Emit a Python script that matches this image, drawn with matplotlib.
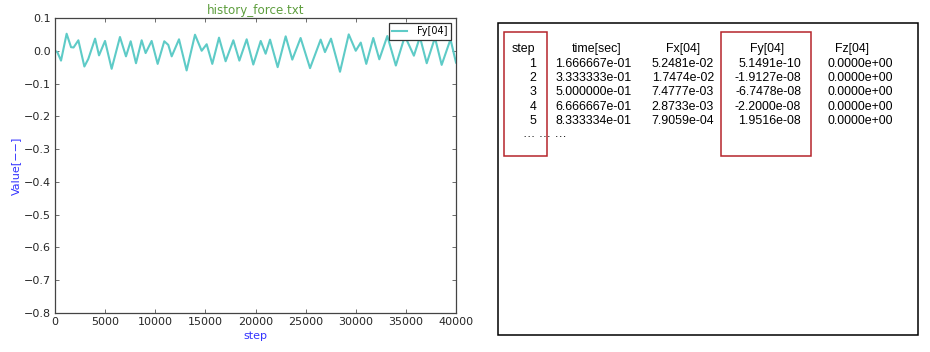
import matplotlib
matplotlib.use("Agg")
import matplotlib.pyplot as plt
from matplotlib.patches import Rectangle

# ---- line data (extrema of the Fy[04] history) ----
steps = [0, 230, 600, 1160, 1600, 1850, 2330, 2930, 3320, 4000, 4390, 4990,
         5650, 6480, 7080, 7550, 8080, 8645, 9040, 9640, 10240, 10900, 11300,
         11640, 12370, 13130, 13965, 14630, 15130, 15690, 16360, 17020, 17790,
         18390, 19120, 19780, 20520, 21010, 21450, 22210, 23010, 23670, 24500,
         25440, 26500, 26930, 27530, 28430, 29300, 30000, 30500, 31050, 31750,
         32350, 33150, 34000, 34900, 35800, 36400, 37080, 37900, 38570, 39450,
         40000]
fy = [0.0, -0.004, -0.030, 0.052, 0.011, 0.010, 0.032, -0.048, -0.025, 0.037,
      -0.014, 0.030, -0.055, 0.042, -0.017, 0.029, -0.038, 0.032, -0.007, 0.030,
      -0.040, 0.029, 0.018, -0.017, 0.035, -0.060, 0.049, 0.000, 0.020, -0.040,
      0.040, -0.032, 0.032, -0.030, 0.035, -0.042, 0.030, -0.009, 0.034, -0.050,
      0.044, -0.027, 0.039, -0.053, 0.034, -0.004, 0.037, -0.064, 0.050, 0.000,
      0.025, -0.040, 0.039, -0.026, 0.045, -0.045, 0.045, -0.015, 0.042, -0.038,
      0.040, -0.043, 0.035, -0.036]
series_label = "Fy[04]"
title = "history_force.txt"
xlabel = "step"
ylabel = "Value[\u2212\u2212]"
xticks = [0, 5000, 10000, 15000, 20000, 25000, 30000, 35000, 40000]
yticks = [0.1, 0.0, -0.1, -0.2, -0.3, -0.4, -0.5, -0.6, -0.7, -0.8]

# ---- table data ----
headers = ["step", "time[sec]", "Fx[04]", "Fy[04]", "Fz[04]"]
tab_step = [1, 2, 3, 4, 5]
tab_time = [1.666667e-01, 3.333333e-01, 5.000000e-01, 6.666667e-01, 8.333334e-01]
tab_fx = [5.2481e-02, 1.7474e-02, 7.4777e-03, 2.8733e-03, 7.9059e-04]
tab_fy = [5.1491e-10, -1.9127e-08, -6.7478e-08, -2.2000e-08, 1.9516e-08]
tab_fz = [0.0, 0.0, 0.0, 0.0, 0.0]

W, H = 930, 352
fig = plt.figure(figsize=(W / 100, H / 100), dpi=100)
fig.patch.set_facecolor("white")

# ---- left chart ----
L, R, T, B = 55, 456, 18, 313
ax = fig.add_axes([L / W, 1 - B / H, (R - L) / W, (B - T) / H])
ax.plot(steps, fy, color="#5ecbc7", lw=1.5, label=series_label,
        solid_joinstyle="round")
ax.set_xlim(0, 40000)
ax.set_ylim(-0.8, 0.1)
ax.set_xticks(xticks)
ax.set_xticklabels([str(t) for t in xticks])
ax.set_yticks(yticks)
ax.set_yticklabels([f"{t:.1f}".replace("-", "\u2212") if t != 0 else "0.0" for t in yticks])
ax.tick_params(direction="in", top=True, right=True, length=3, width=0.6,
               labelsize=8, labelcolor="#262626", color="#555555", pad=3)
for s in ax.spines.values():
    s.set_color("#444444")
    s.set_linewidth(0.9)
ax.set_title(title, color="#5e9e3e", fontsize=8.6, pad=3)
ax.set_xlabel(xlabel, color="#3333ff", fontsize=8, labelpad=3)
ax.set_ylabel(ylabel, color="#3333ff", fontsize=8, labelpad=2)
leg = ax.legend(loc="upper right", fontsize=7, fancybox=False, framealpha=1,
                edgecolor="#333333", borderpad=0.35, handlelength=1.5,
                handletextpad=1.1, borderaxespad=0.5)
leg.get_frame().set_linewidth(0.9)

# ---- right panel (text table) ----
ov = fig.add_axes([0, 0, 1, 1])
ov.set_xlim(0, W)
ov.set_ylim(H, 0)
ov.axis("off")
ov.patch.set_alpha(0)

ov.add_patch(Rectangle((497.5, 22.5), 420.5, 312.5, fill=False,
                       edgecolor="black", lw=1.1))
red = "#b5252b"
ov.add_patch(Rectangle((504, 31.7), 42.7, 124.3, fill=False, edgecolor=red, lw=1.1))
ov.add_patch(Rectangle((721, 31.7), 89.7, 124.3, fill=False, edgecolor=red, lw=1.1))

fam = "Liberation Sans"
fs = 8.9
header_x = [512, 572, 666, 750, 835]
for h, x in zip(headers, header_x):
    ov.text(x, 51.7, h, ha="left", va="baseline", fontsize=fs, family=fam, color="black")

right_edges = [536, 631.7, 714, 801, 892.5]
row_base = [66.7, 80.9, 95.2, 109.6, 123.6]
for i in range(len(tab_step)):
    cells = [str(tab_step[i]), f"{tab_time[i]:.6e}", f"{tab_fx[i]:.4e}",
             f"{tab_fy[i]:.4e}", f"{tab_fz[i]:.4e}"]
    for c, x in zip(cells, right_edges):
        ov.text(x, row_base[i], c, ha="right", va="baseline", fontsize=fs,
                family=fam, color="black")
ov.text(523, 137, "\u2026 \u2026 \u2026", ha="left", va="baseline", fontsize=fs,
        family=fam, color="black")

fig.savefig("out.png", dpi=100, facecolor="white")
